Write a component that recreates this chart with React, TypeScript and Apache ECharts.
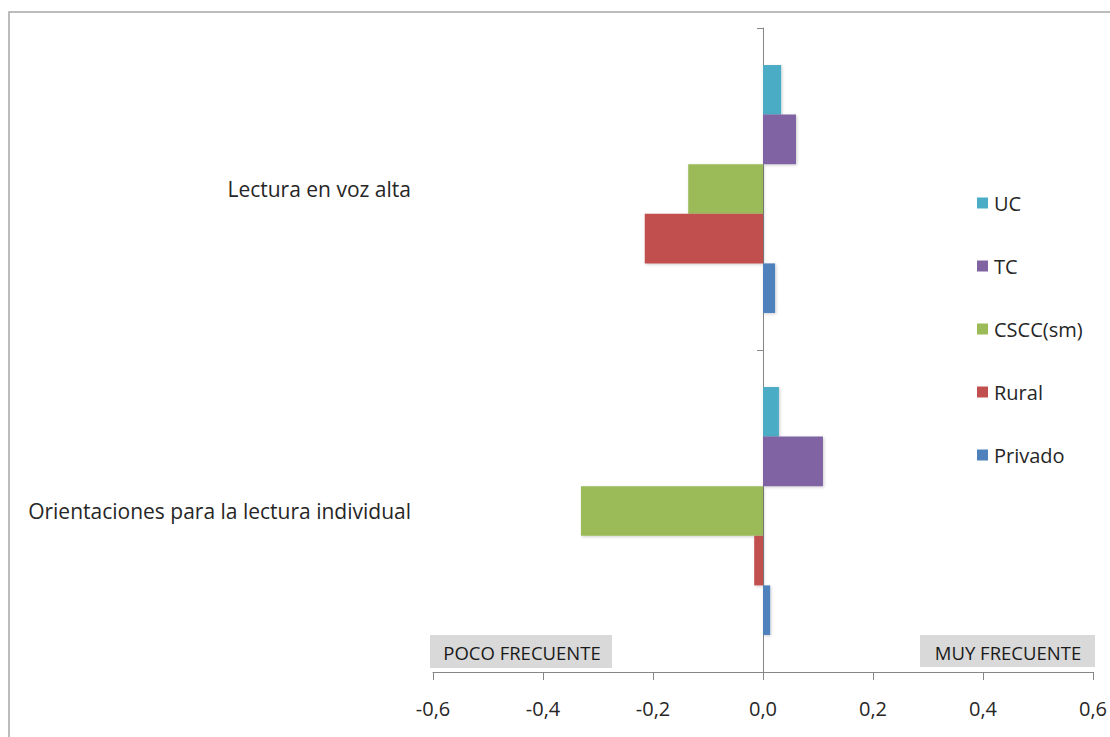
import React, { useEffect, useRef } from "react";
import * as echarts from "echarts";

// Categories listed bottom to top, as the category axis runs upward
const categories = ["Orientaciones para la lectura individual", "Lectura en voz alta"];

const seriesNames = ["UC", "TC", "CSCC(sm)", "Rural", "Privado"];
const ucValues = [0.029, 0.033];
const tcValues = [0.109, 0.06];
const csccValues = [-0.331, -0.136];
const ruralValues = [-0.016, -0.215];
const privadoValues = [0.013, 0.022];

const seriesColors = ["#4BACC6", "#8064A2", "#9BBB59", "#C0504D", "#4F81BD"];

const xTicks = [-0.6, 0.6, 0.2]; // min, max, interval

const leftNote = "POCO FRECUENTE";
const rightNote = "MUY FRECUENTE";

const FONT = "'Open Sans', Lato, sans-serif";

export default function App() {
  const ref = useRef<HTMLDivElement>(null);

  useEffect(() => {
    if (!ref.current) return;
    const chart = echarts.init(ref.current, null, { renderer: "svg" });
    const allValues = [ucValues, tcValues, csccValues, ruralValues, privadoValues];

    chart.setOption({
      animation: false,
      textStyle: { fontFamily: FONT },
      grid: {
        left: 433,
        right: 17,
        top: 28,
        bottom: 65,
        containLabel: false,
        outerBoundsMode: "none",
      },
      legend: {
        orient: "vertical",
        left: 972,
        top: 188,
        itemWidth: 11,
        itemHeight: 11,
        itemGap: 43,
        icon: "rect",
        data: seriesNames,
        textStyle: { fontSize: 20, color: "#262626", fontFamily: FONT, padding: [0, 0, 0, 1] },
      },
      xAxis: {
        type: "value",
        min: xTicks[0],
        max: xTicks[1],
        interval: xTicks[2],
        splitLine: { show: false },
        axisLine: { show: true, lineStyle: { color: "#868686", width: 1 } },
        axisTick: { show: true, length: 8, lineStyle: { color: "#868686" } },
        axisLabel: {
          margin: 26,
          fontSize: 20,
          color: "#262626",
          fontFamily: FONT,
          formatter: (v: number) => v.toFixed(1).replace(".", ","),
        },
      },
      yAxis: {
        type: "category",
        data: categories,
        axisLine: { show: true, onZero: true, lineStyle: { color: "#868686", width: 1 } },
        axisTick: { show: true, length: 6, alignWithLabel: false, lineStyle: { color: "#868686" } },
        axisLabel: {
          margin: 22,
          fontSize: 21,
          color: "#262626",
          fontFamily: FONT,
        },
      },
      series: seriesNames.map((name, i) => ({
        name,
        type: "bar",
        data: allValues[i],
        barGap: "0%",
        barCategoryGap: "23%",
        itemStyle: {
          color: seriesColors[i],
          shadowBlur: 3,
          shadowColor: "rgba(0,0,0,0.2)",
          shadowOffsetX: 1,
          shadowOffsetY: 1,
        },
      })),
      graphic: [
        {
          type: "rect",
          silent: true,
          shape: { x: 9, y: 12, width: 1200, height: 800 },
          style: { fill: "none", stroke: "#a6a6a6", lineWidth: 1.5 },
        },
        {
          type: "rect",
          silent: true,
          shape: { x: 430, y: 635, width: 182, height: 33 },
          style: { fill: "#D9D9D9" },
        },
        {
          type: "text",
          silent: true,
          x: 522,
          y: 652,
          style: {
            text: leftNote,
            fill: "#1a1a1a",
            font: `18.5px ${FONT}`,
            align: "center",
            verticalAlign: "middle",
          },
        },
        {
          type: "rect",
          silent: true,
          shape: { x: 920, y: 635, width: 175, height: 32 },
          style: { fill: "#D9D9D9" },
        },
        {
          type: "text",
          silent: true,
          x: 1008,
          y: 652,
          style: {
            text: rightNote,
            fill: "#1a1a1a",
            font: `18.5px ${FONT}`,
            align: "center",
            verticalAlign: "middle",
          },
        },
      ],
    });

    return () => chart.dispose();
  }, []);

  return (
    <div
      ref={ref}
      style={{ position: "absolute", left: 0, top: 0, width: 1110, height: 737, background: "#fff" }}
    />
  );
}
